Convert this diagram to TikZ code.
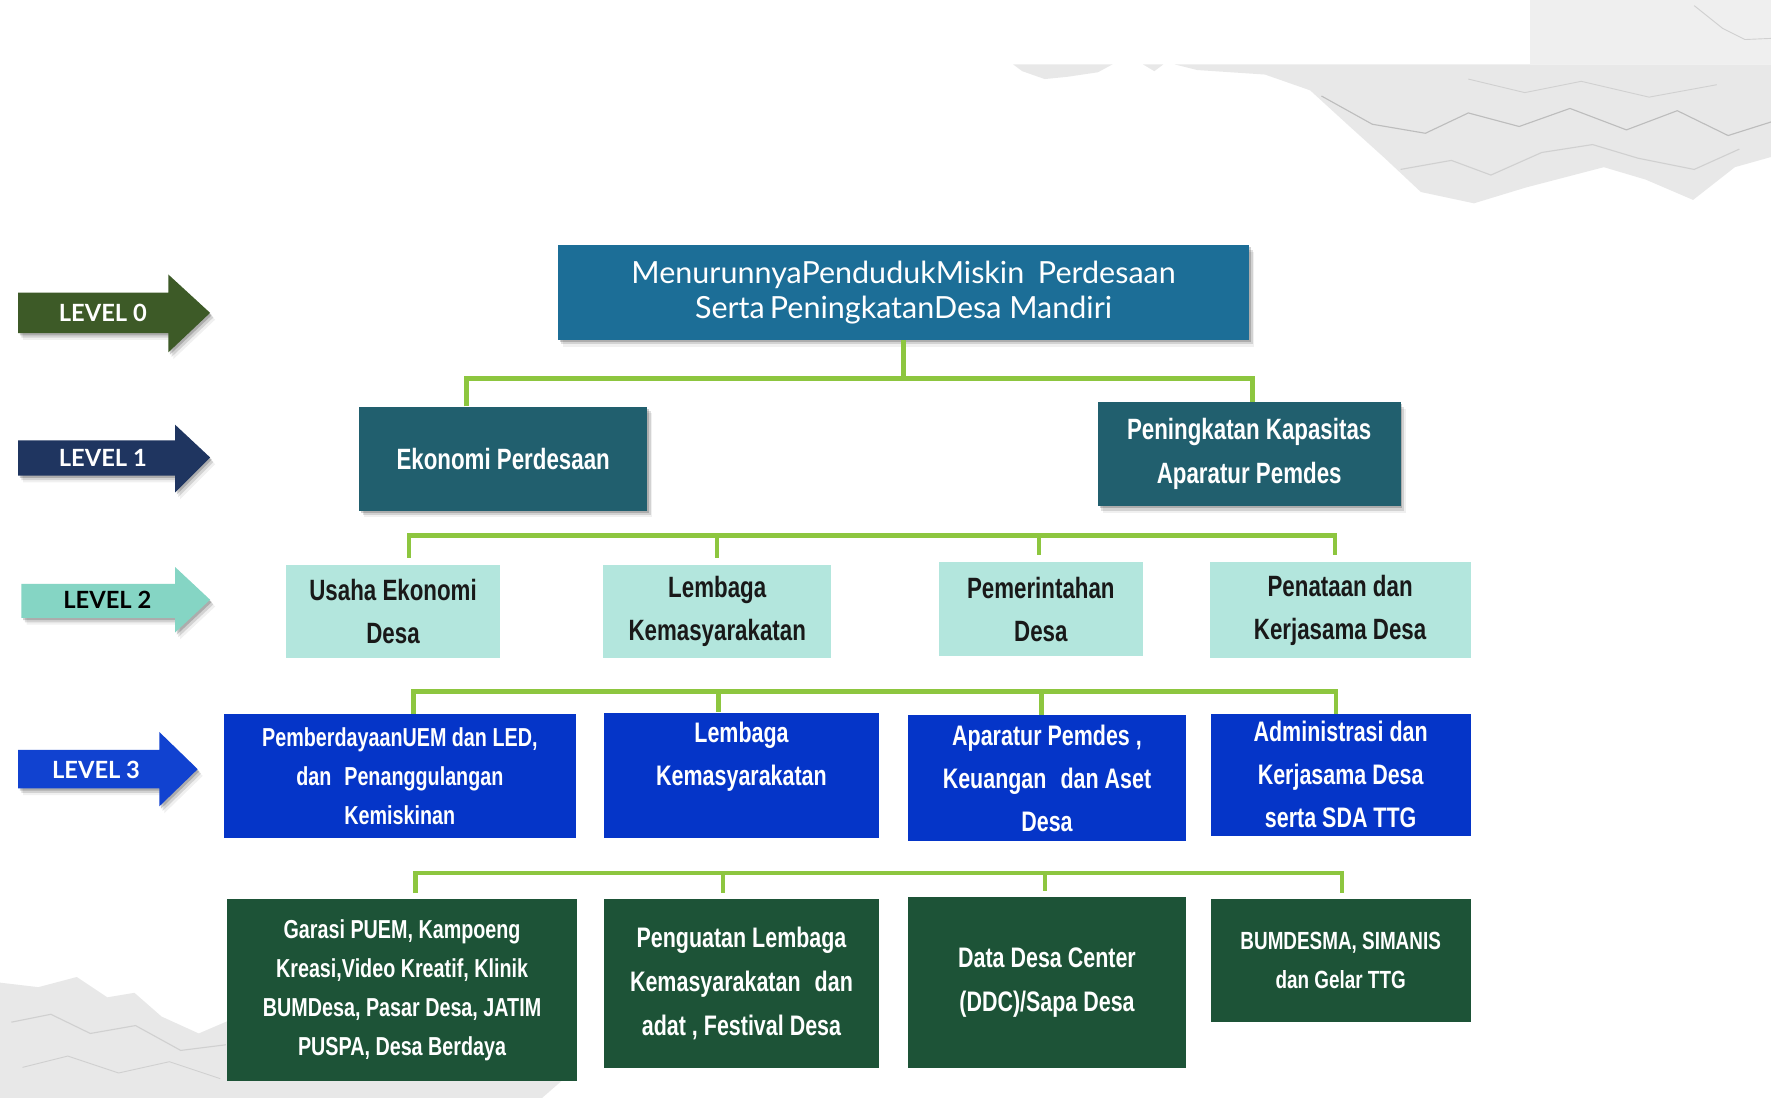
\documentclass[tikz,border=0pt]{standalone}
\usepackage{fontspec}
\usetikzlibrary{shadows,calc}
\newfontfamily\agency[FakeStretch=0.76]{Liberation Sans}
\newfontfamily\twcen{Lato}

\definecolor{lvzero}{HTML}{3D5A27}
\definecolor{lvone}{HTML}{1F3560}
\definecolor{lvtwo}{HTML}{85D5C4}
\definecolor{lvthree}{HTML}{1142D0}
\definecolor{goalblue}{HTML}{1C6E97}
\definecolor{petrol}{HTML}{215F6E}
\definecolor{aqua}{HTML}{B3E6DD}
\definecolor{royal}{HTML}{0535C8}
\definecolor{forest}{HTML}{1D5337}
\definecolor{lime}{HTML}{8DC63F}
\definecolor{paper}{HTML}{E8E8E8}
\definecolor{paperlight}{HTML}{EFEFEF}
\definecolor{ridge}{HTML}{D0D0D0}
\definecolor{ridgedark}{HTML}{BDBDBD}

\tikzset{
  conn/.style={draw=lime, line width=4pt, line join=miter},
  softshadow/.style={
    drop shadow={shadow xshift=1.5pt, shadow yshift=-2pt, opacity=0.18, fill=black},
    drop shadow={shadow xshift=3pt, shadow yshift=-4pt, opacity=0.12, fill=black},
    drop shadow={shadow xshift=4.5pt, shadow yshift=-6pt, opacity=0.06, fill=black}},
  card/.style={inner sep=0pt, align=center, text=white},
  lvtext/.style={inner sep=0pt, font=\twcen\bfseries\fontsize{21}{24}\selectfont},
  f1/.style={font=\agency\bfseries\fontsize{26}{39}\selectfont},
  f2/.style={font=\agency\bfseries\fontsize{26}{38}\selectfont},
  f3/.style={font=\agency\bfseries\fontsize{25}{38}\selectfont},
  f3s/.style={font=\agency\bfseries\fontsize{23}{34.5}\selectfont},
  f4/.style={font=\agency\bfseries\fontsize{25}{39}\selectfont},
  f4s/.style={font=\agency\bfseries\fontsize{23}{34.5}\selectfont},
  f4t/.style={font=\agency\bfseries\fontsize{22}{34}\selectfont},
}

\begin{document}
\begin{tikzpicture}[x=1pt, y=-1pt]
  % canvas
  \fill[white] (0,0) rectangle (1568,972);
  \useasboundingbox (0,0) rectangle (1568,972);

  % crumpled paper, top right
  \fill[paperlight] (1355,0) rectangle (1568,57);
  \fill[paper] (1040,57) -- (1568,57) -- (1568,139) -- (1536,148) -- (1499,177)
    -- (1457,159) -- (1420,148) -- (1351,166) -- (1305,180) -- (1258,170)
    -- (1226,140) -- (1195,112) -- (1160,80) -- (1120,66) -- (1060,62) -- cycle;
  \fill[paper] (897,57) -- (985,57) -- (972,64) -- (945,68) -- (925,70) -- (905,63) -- cycle;
  \fill[paper] (1012,57) -- (1030,57) -- (1022,63) -- cycle;
  \draw[ridgedark, line width=1pt] (1170,85) -- (1215,110) -- (1262,118) -- (1300,100)
    -- (1345,112) -- (1390,96) -- (1440,115) -- (1485,98) -- (1530,120) -- (1568,108);
  \draw[ridge, line width=1pt] (1240,150) -- (1285,142) -- (1320,155) -- (1365,135)
    -- (1410,128) -- (1450,140) -- (1500,150) -- (1540,132);
  \draw[ridge, line width=0.8pt] (1300,70) -- (1350,82) -- (1400,72) -- (1460,86) -- (1520,75);
  \draw[ridge, line width=0.8pt] (1500,5) -- (1525,25) -- (1545,35) -- (1568,34);

  % crumpled paper, bottom left
  \fill[paper] (0,870) -- (34,874) -- (68,865) -- (95,883) -- (119,879) -- (143,900)
    -- (176,915) -- (204,903) -- (300,930) -- (511,945) -- (480,972) -- (0,972) -- cycle;
  \draw[ridge, line width=1pt] (10,905) -- (45,898) -- (80,915) -- (120,908) -- (160,930) -- (200,925);
  \draw[ridge, line width=0.8pt] (20,945) -- (60,935) -- (105,950) -- (150,940) -- (195,955);

  % level arrows
  \fill[lvzero, softshadow] (16,259) -- (149,259) -- (149,243) -- (186,277)
    -- (149,312) -- (149,295) -- (16,295) -- cycle;
  \fill[lvone, softshadow] (16,390) -- (155,390) -- (155,376) -- (186,405)
    -- (155,436) -- (155,421) -- (16,421) -- cycle;
  \fill[lvtwo, softshadow] (19,517) -- (155,517) -- (155,502) -- (186,531)
    -- (155,560) -- (155,547) -- (19,547) -- cycle;
  \fill[lvthree, softshadow] (16,664) -- (141,664) -- (141,648) -- (175,681)
    -- (141,714) -- (141,698) -- (16,698) -- cycle;
  \node[lvtext, text=white] (lv0) at (91,277) {LEVEL 0};
  \node[lvtext, text=white] (lv1) at (91,405) {LEVEL 1};
  \node[lvtext, text=black] (lv2) at (95,531) {LEVEL 2};
  \node[lvtext, text=white] (lv3) at (85,682) {LEVEL 3};

  % level 0
  \node[card, fill=goalblue, softshadow, minimum width=612pt, minimum height=84pt,
        font=\twcen\fontsize{27}{31}\selectfont] (goal) at (800,259)
    {MenurunnyaPendudukMiskin\hspace{0.45em}Perdesaan\\Serta\,PeningkatanDesa Mandiri};

  % level 1
  \node[card, f1, fill=petrol, softshadow, minimum width=255pt, minimum height=92pt]
    (eko) at (445.5,406) {Ekonomi Perdesaan};
  \node[card, f1, fill=petrol, softshadow, minimum width=268pt, minimum height=92pt]
    (pka) at (1106,402) {Peningkatan Kapasitas\\Aparatur Pemdes};

  % level 2
  \node[card, f2, fill=aqua, text=black!90, minimum width=190pt, minimum height=83pt]
    (usaha) at (348,541.5) {Usaha Ekonomi\\Desa};
  \node[card, f2, fill=aqua, text=black!90, minimum width=202pt, minimum height=83pt]
    (lemb) at (635,541.5) {Lembaga\\Kemasyarakatan};
  \node[card, f2, fill=aqua, text=black!90, minimum width=181pt, minimum height=83pt]
    (pemr) at (921.5,539.5) {Pemerintahan\\Desa};
  \node[card, f2, fill=aqua, text=black!90, minimum width=231pt, minimum height=85pt]
    (pena) at (1186.5,540.5) {Penataan dan\\Kerjasama Desa};

  % level 3
  \node[card, f3s, fill=royal, minimum width=312pt, minimum height=110pt]
    (pemb) at (354,687) {PemberdayaanUEM dan LED,\\dan\hspace{0.5em}Penanggulangan\\Kemiskinan};
  \node[card, f3, fill=royal, minimum width=243pt, minimum height=111pt]
    (lemk) at (656.5,686.5) {Lembaga\\Kemasyarakatan\\\mbox{}};
  \node[card, f3, fill=royal, minimum width=246pt, minimum height=112pt]
    (apar) at (927,689) {Aparatur Pemdes ,\\Keuangan\hspace{0.5em}dan Aset\\Desa};
  \node[card, f3, fill=royal, minimum width=230pt, minimum height=108pt]
    (admi) at (1187,686) {Administrasi dan\\Kerjasama Desa\\serta SDA TTG};

  % level 4
  \node[card, f4s, fill=forest, minimum width=310pt, minimum height=161pt]
    (gara) at (356,876.5) {Garasi PUEM, Kampoeng\\Kreasi,Video Kreatif, Klinik\\BUMDesa, Pasar Desa, JATIM\\PUSPA, Desa Berdaya};
  \node[card, f4, fill=forest, minimum width=243pt, minimum height=150pt]
    (peng) at (656.5,871) {Penguatan Lembaga\\Kemasyarakatan\hspace{0.5em}dan\\adat , Festival Desa};
  \node[card, f4, fill=forest, minimum width=246pt, minimum height=152pt]
    (ddc) at (927,870) {Data Desa Center\\(DDC)/Sapa Desa};
  \node[card, f4t, fill=forest, minimum width=230pt, minimum height=109pt]
    (bumd) at (1187,850.5) {BUMDESMA, SIMANIS\\dan Gelar TTG};

  % bus junctions
  \coordinate (j01) at (413,335);
  \coordinate (j02) at (1109,335);
  \coordinate (j11) at (362,474);
  \coordinate (j12) at (635,474);
  \coordinate (j13) at (920,474);
  \coordinate (j14) at (1182,474);
  \coordinate (j21) at (366,612);
  \coordinate (j22) at (636,612);
  \coordinate (j23) at (922,612);
  \coordinate (j24) at (1183,612);
  \coordinate (j31) at (368,773);
  \coordinate (j32) at (640,773);
  \coordinate (j33) at (925,773);
  \coordinate (j34) at (1188,773);

  % level 0 -> level 1
  \draw[conn] (goal.south) -- (goal.south |- j01);
  \draw[conn] (j01 |- eko.north) -- (j01) -- (j02) -- (j02 |- pka.north);

  % level 1 -> level 2
  \draw[conn, shorten <=6pt, shorten >=6pt] (j11 |- usaha.north) -- (j11) -- (j14) -- (j14 |- pena.north);
  \draw[conn, shorten >=6pt] (j12) -- (j12 |- lemb.north);
  \draw[conn, shorten >=6pt] (j13) -- (j13 |- pemr.north);

  % level 2 -> level 3
  \draw[conn] (j21 |- pemb.north) -- (j21) -- (j24) -- (j24 |- admi.north);
  \draw[conn] (j22) -- (j22 |- lemk.north);
  \draw[conn] (j23) -- (j23 |- apar.north);

  % level 3 -> level 4
  \draw[conn, shorten <=5pt, shorten >=5pt] (j31 |- gara.north) -- (j31) -- (j34) -- (j34 |- bumd.north);
  \draw[conn, shorten >=5pt] (j32) -- (j32 |- peng.north);
  \draw[conn, shorten >=5pt] (j33) -- (j33 |- ddc.north);
\end{tikzpicture}
\end{document}
